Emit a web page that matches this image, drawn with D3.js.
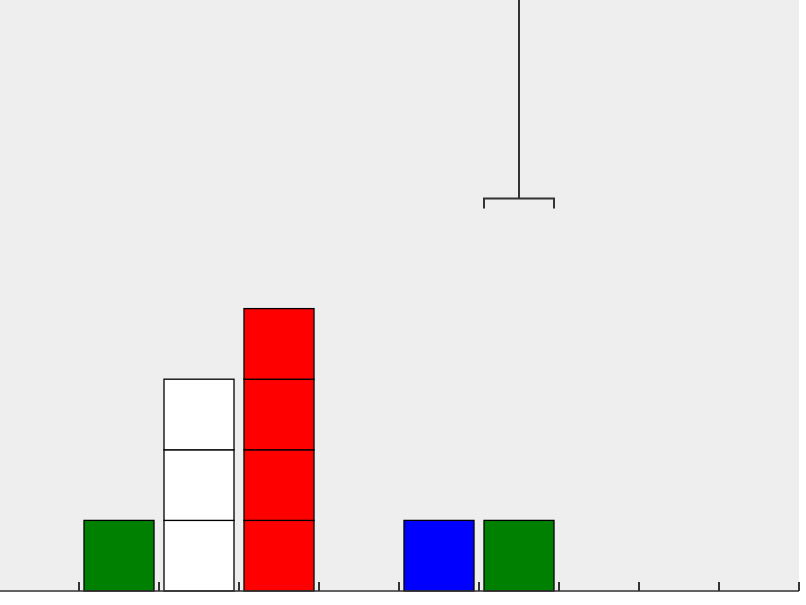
<!DOCTYPE html>
<html>
<head>
<meta charset="utf-8">
<script src="https://cdn.jsdelivr.net/npm/d3@7"></script>
<style>
  body { margin: 0; background: #fff; }
  svg { display: block; }
</style>
</head>
<body>
<script>
// one column per slot, each count is a stack of unit blocks
var slots = [0, 1, 2, 3, 4, 5, 6, 7, 8, 9];
var counts = [1, 3, 4, 0, 1, 1, 0, 0, 0, 0];
var fills = ["green", "white", "red", null, "blue", "green", null, null, null, null];

// bracket hanging over a column, level in block units
var bracketSlot = 5;
var bracketLevel = 5.56;

var width = 806, height = 605;
var plotW = 799, plotH = 592;

var svg = d3.select("body").append("svg")
    .attr("width", width)
    .attr("height", height);

svg.append("rect")
    .attr("width", plotW)
    .attr("height", plotH)
    .attr("fill", "#eeeeee");

var x = d3.scaleBand()
    .domain(slots)
    .range([79, 879])
    .paddingInner(0.125)
    .paddingOuter(0.0625);

var y = d3.scaleLinear()
    .domain([0, 1])
    .range([591, 520.4]);

var blocks = [];
counts.forEach(function(c, i) {
    for (var k = 0; k < c; k++) blocks.push({slot: slots[i], level: k, fill: fills[i]});
});

svg.append("g").selectAll("rect")
    .data(blocks)
    .join("rect")
    .attr("x", function(d) { return x(d.slot); })
    .attr("y", function(d) { return y(d.level + 1); })
    .attr("width", x.bandwidth())
    .attr("height", y(0) - y(1))
    .attr("fill", function(d) { return d.fill; })
    .attr("stroke", "#000")
    .attr("stroke-width", 1.3);

// axis with ticks on column boundaries
var axisG = svg.append("g");
axisG.append("line")
    .attr("x1", 0).attr("x2", plotW)
    .attr("y1", 591).attr("y2", 591)
    .attr("stroke", "#333").attr("stroke-width", 1.5);

var step = x.step();
axisG.selectAll("line.tick")
    .data(slots)
    .join("line")
    .attr("class", "tick")
    .attr("x1", function(d) { return x(d) - step * 0.0625; })
    .attr("x2", function(d) { return x(d) - step * 0.0625; })
    .attr("y1", 582).attr("y2", 591)
    .attr("stroke", "#333").attr("stroke-width", 2);

// bracket
var bx0 = x(bracketSlot), bx1 = x(bracketSlot) + x.bandwidth();
var bxc = x(bracketSlot) + x.bandwidth() / 2;
var by = y(bracketLevel);
svg.append("path")
    .attr("d", "M" + bx0 + "," + (by + 10) + "V" + by + "H" + bx1 + "V" + (by + 10)
        + "M" + bxc + "," + by + "V0")
    .attr("fill", "none")
    .attr("stroke", "#333")
    .attr("stroke-width", 2);
</script>
</body>
</html>
